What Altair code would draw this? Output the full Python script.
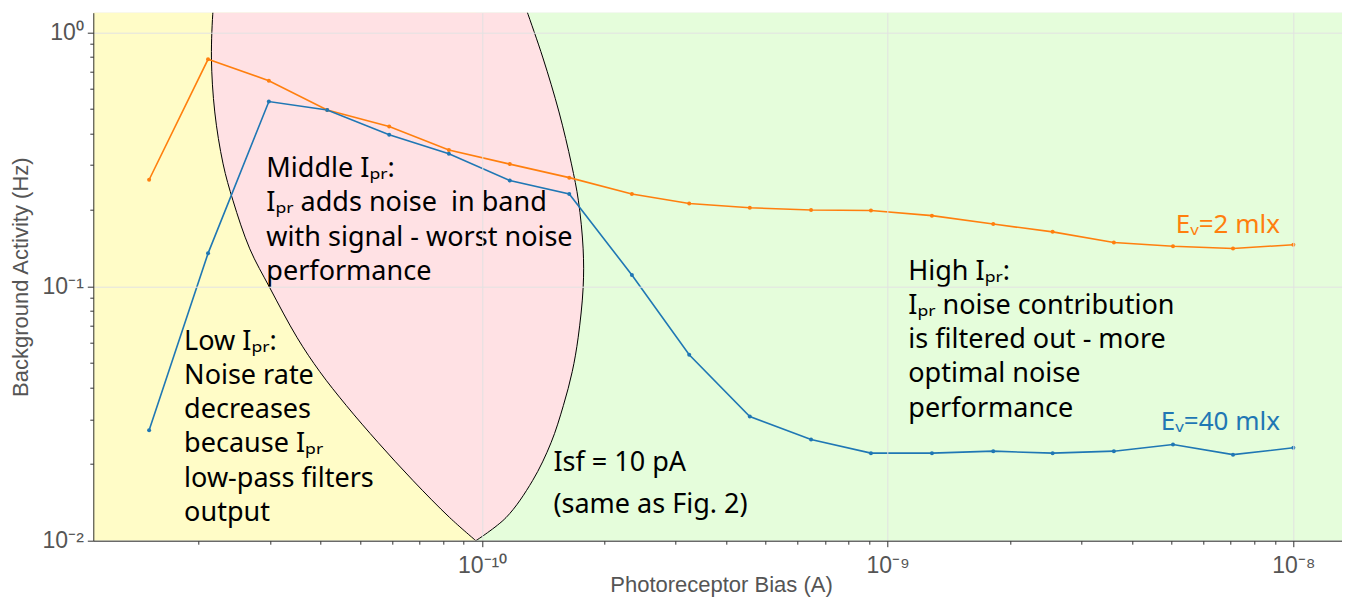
import altair as alt

# ---------------- data ----------------
bias = [1.51e-11, 2.11e-11, 2.98e-11, 4.15e-11, 5.90e-11, 8.28e-11, 1.17e-10,
        1.64e-10, 2.34e-10, 3.24e-10, 4.57e-10, 6.47e-10, 9.09e-10, 1.285e-9,
        1.82e-9, 2.55e-9, 3.61e-9, 5.05e-9, 7.10e-9, 1.0e-8]
ba_2mlx = [0.263, 0.783, 0.645, 0.495, 0.426, 0.344, 0.303, 0.268, 0.231, 0.212,
           0.204, 0.200, 0.199, 0.190, 0.176, 0.164, 0.149, 0.144, 0.141, 0.146]
ba_40mlx = [0.0272, 0.135, 0.534, 0.495, 0.395, 0.333, 0.261, 0.231, 0.111, 0.0539,
            0.0308, 0.0250, 0.0221, 0.0221, 0.0225, 0.0221, 0.0225, 0.0239, 0.0218, 0.0232]
series_names = ["Eᵥ=2 mlx", "Eᵥ=40 mlx"]
series_colors = ["#ff7f0e", "#1f77b4"]

X_DOMAIN = [1.10e-11, 1.318e-8]
Y_DOMAIN = [0.01, 1.194]

x_major = [1e-10, 1e-9, 1e-8]
x_major_labels = ["10⁻¹⁰", "10⁻⁹", "10⁻⁸"]
y_major = [0.01, 0.1, 1.0]
y_major_labels = ["10⁻²", "10⁻¹", "10⁰"]

# background regions (low / high bias)
region_start = [1.10e-11, 9.65e-11]
region_end = [9.65e-11, 1.318e-8]
region_fill = ["#fffcc7", "#e5fddb"]

# lens shaped "middle" region, edges
lens_y = [0.0100, 0.012326, 0.017222, 0.024293, 0.033977, 0.046222, 0.062851,
          0.098831, 0.14065, 0.21726, 0.30363, 0.48594, 0.7924, 1.2235, 1.3394]
lens_left = [9.65e-11, 8.32e-11, 6.759e-11, 5.546e-11, 4.629e-11, 3.979e-11,
             3.500e-11, 2.996e-11, 2.674e-11, 2.432e-11, 2.298e-11, 2.192e-11,
             2.151e-11, 2.171e-11, 2.186e-11]
lens_right = [9.65e-11, 1.1453e-10, 1.3313e-10, 1.4788e-10, 1.5857e-10, 1.6678e-10,
              1.7246e-10, 1.7743e-10, 1.7743e-10, 1.7275e-10, 1.6602e-10, 1.5470e-10,
              1.4124e-10, 1.2869e-10, 1.2623e-10]

# annotations
ann_x = [2.938e-11, 1.842e-11, 1.1236e-9, 1.4987e-10, 1.4987e-10]
ann_y = [0.2692, 0.0564, 0.1062, 0.01874, 0.01286]
ann_text = [
    "Middle Iₚᵣ:\nIₚᵣ adds noise \u00a0in band\nwith signal - worst noise\nperformance",
    "Low Iₚᵣ:\nNoise rate\ndecreases\nbecause Iₚᵣ\nlow-pass filters\noutput",
    "High Iₚᵣ:\nIₚᵣ noise contribution\nis filtered out - more\noptimal noise\nperformance",
    "Isf = 10 pA",
    "(same as Fig. 2)",
]
lab_x = [9.27e-9, 9.27e-9]
lab_y = [0.1622, 0.02716]

# ---------------- layout ----------------
PLOT_W, PLOT_H = 1248.7, 528
PAD = {"left": 85.3, "top": 4.7, "right": 0, "bottom": 56.3}

# ---------------- axes ----------------
x_minor = [m * 10.0 ** e for e in (-11, -10, -9) for m in range(2, 10)
           if X_DOMAIN[0] <= m * 10.0 ** e <= X_DOMAIN[1]]
y_minor = [m * 10.0 ** e for e in (-2, -1) for m in range(2, 10)]


def major_test(vals):
    return "indexof([" + ",".join(repr(v) for v in vals) + "], datum.value) >= 0"


def label_expr(vals, labels):
    expr = "''"
    for v, l in reversed(list(zip(vals, labels))):
        expr = f"datum.value == {v!r} ? '{l}' : ({expr})"
    return expr


AXIS_COMMON = dict(
    grid=True, gridColor="#e2e2e2", gridWidth=1,
    domainColor="#333333", domainWidth=1,
    tickColor="#333333", tickWidth=1,
    labelFont="Liberation Sans", labelFontSize=23, labelColor="#555555",
    titleFont="Liberation Sans", titleFontSize=22, titleColor="#555555",
    titleFontWeight="normal", labelOverlap=False, labelFlush=False, zindex=1,
    titleAlign="center",
)

x_axis = alt.Axis(
    values=x_major + x_minor, labelExpr=label_expr(x_major, x_major_labels),
    gridOpacity={"condition": {"test": major_test(x_major), "value": 1}, "value": 0},
    tickSize={"condition": {"test": major_test(x_major), "value": 6}, "value": 3.5},
    title="Photoreceptor Bias (A)", labelPadding=8,
    titleX=627.7, titleY=51, titleBaseline="alphabetic", **AXIS_COMMON)
y_axis = alt.Axis(
    values=y_major + y_minor, labelExpr=label_expr(y_major, y_major_labels),
    gridOpacity={"condition": {"test": major_test(y_major), "value": 1}, "value": 0},
    tickSize={"condition": {"test": major_test(y_major), "value": 6}, "value": 3.5},
    title="Background Activity (Hz)", labelPadding=4,
    titleX=-73, titleY=264, titleAngle=270, titleBaseline="middle", **AXIS_COMMON)

xs = alt.Scale(type="log", domain=X_DOMAIN, nice=False)
ys = alt.Scale(type="log", domain=Y_DOMAIN, nice=False)


def X(f):
    return alt.X(f, type="quantitative", scale=xs, axis=x_axis)


def Y(f):
    return alt.Y(f, type="quantitative", scale=ys, axis=y_axis)


color_scale = alt.Scale(domain=series_names, range=series_colors)

# ---------------- layers ----------------
bg_data = alt.Data(values=[{"x0": a, "x1": b, "y0": Y_DOMAIN[0], "y1": Y_DOMAIN[1], "fill": c}
                           for a, b, c in zip(region_start, region_end, region_fill)])
bg = alt.Chart(bg_data).mark_rect().encode(
    x=X("x0"), x2=alt.X2("x1"), y=Y("y0"), y2=alt.Y2("y1"),
    color=alt.Color("fill:N", scale=None))

lens_data = alt.Data(values=[{"y": y, "left": l, "right": r}
                             for y, l, r in zip(lens_y, lens_left, lens_right)])
lens = alt.Chart(lens_data).mark_area(
    orient="horizontal", interpolate="catmull-rom", fill="#ffe1e4",
    stroke="#000000", strokeWidth=1, clip=True).encode(
    y=Y("y"), x=X("left"), x2=alt.X2("right"))

series_data = alt.Data(values=[{"bias": b, "rate": r, "series": s}
                               for s, vals in zip(series_names, [ba_2mlx, ba_40mlx])
                               for b, r in zip(bias, vals)])
lines = alt.Chart(series_data).mark_line(strokeWidth=1.6).encode(
    x=X("bias"), y=Y("rate"),
    color=alt.Color("series:N", scale=color_scale, legend=None))
points = alt.Chart(series_data).mark_circle(size=16, opacity=1).encode(
    x=X("bias"), y=Y("rate"),
    color=alt.Color("series:N", scale=color_scale, legend=None))

ann_data = alt.Data(values=[{"x": x, "y": y, "t": t} for x, y, t in zip(ann_x, ann_y, ann_text)])
ann = alt.Chart(ann_data).mark_text(
    align="left", baseline="alphabetic", font="Noto Sans", fontSize=27,
    lineHeight=34.2, lineBreak="\n", color="#000000").encode(
    x=X("x"), y=Y("y"), text="t:N")

lab_data = alt.Data(values=[{"x": x, "y": y, "series": s}
                            for x, y, s in zip(lab_x, lab_y, series_names)])
labels = alt.Chart(lab_data).mark_text(
    align="right", baseline="alphabetic", font="Noto Sans", fontSize=26).encode(
    x=X("x"), y=Y("y"), text="series:N",
    color=alt.Color("series:N", scale=color_scale, legend=None))

chart = alt.layer(bg, lens, lines, points, ann, labels).properties(
    width=PLOT_W, height=PLOT_H, padding=PAD,
    autosize=alt.AutoSizeParams(type="none"),
).configure_view(stroke="#e4e4e4", strokeWidth=1)

chart.save("out.html", embed_options={"renderer": "svg", "actions": False})
